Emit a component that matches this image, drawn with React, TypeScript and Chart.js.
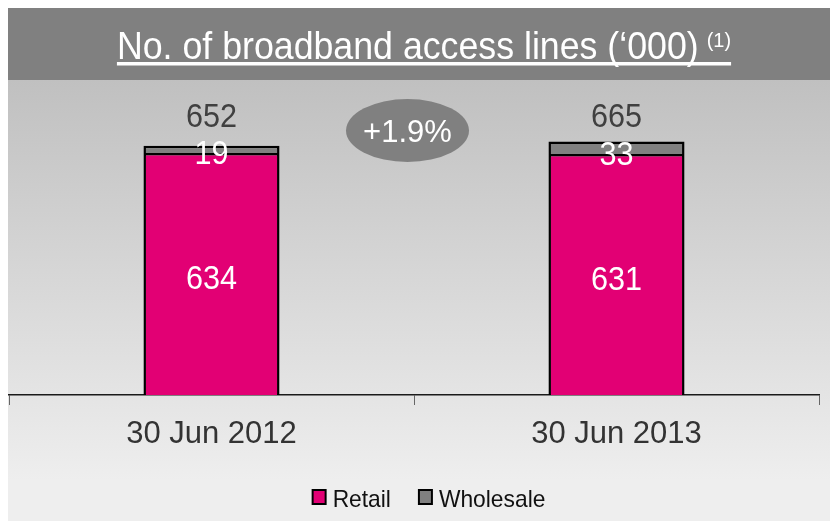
import React, { useEffect, useRef } from 'react';
import { Chart, registerables } from 'chart.js';

Chart.register(...registerables);

const categories = ['30 Jun 2012', '30 Jun 2013'];
const retail = [634, 631];
const wholesale = [19, 33];
const totals = [652, 665];
const growthLabel = '+1.9%';
const seriesNames = ['Retail', 'Wholesale'];
const titleText = 'No. of broadband access lines (\u2018000)';
const titleNote = '(1)';

const FONT = '"Liberation Sans", Arial, Helvetica, sans-serif';
const MAGENTA = '#E20074';
const GREY = '#808080';

function drawText(
  ctx: CanvasRenderingContext2D,
  text: string,
  x: number,
  y: number,
  size: number,
  color: string,
  align: CanvasTextAlign = 'center',
  sx = 1
) {
  ctx.save();
  ctx.font = `${size}px ${FONT}`;
  ctx.fillStyle = color;
  ctx.textBaseline = 'alphabetic';
  ctx.textAlign = align;
  ctx.translate(x, y);
  ctx.scale(sx, 1);
  ctx.fillText(text, 0, 0);
  ctx.restore();
}

const decorPlugin = {
  id: 'decor',
  beforeDraw(chart: any) {
    const { ctx, width, height } = chart;
    ctx.save();
    const barH = 72;
    const grad = ctx.createLinearGradient(0, barH, 0, 472);
    grad.addColorStop(0, '#C0C0C0');
    grad.addColorStop(1, '#EEEEEE');
    ctx.fillStyle = grad;
    ctx.fillRect(0, barH, width, height - barH);
    ctx.fillStyle = GREY;
    ctx.fillRect(0, 0, width, barH);

    // title
    const tSize = 38;
    const tSx = 0.94;
    ctx.font = `${tSize}px ${FONT}`;
    const w1 = ctx.measureText(titleText).width * tSx;
    const nSize = 21;
    ctx.font = `${nSize}px ${FONT}`;
    const w2 = ctx.measureText(titleNote).width * 0.95;
    const gap = 8;
    const total = w1 + gap + w2;
    const start = width / 2 + 5 - total / 2;
    drawText(ctx, titleText, start, 51, tSize, '#FFFFFF', 'left', tSx);
    drawText(ctx, titleNote, start + w1 + gap, 39, nSize, '#FFFFFF', 'left', 0.95);
    ctx.fillStyle = '#FFFFFF';
    ctx.fillRect(start, 54, total, 3.5);
    ctx.restore();
  },
  afterDatasetsDraw(chart: any) {
    const { ctx } = chart;
    const yScale = chart.scales.y;
    const m0 = chart.getDatasetMeta(0);
    const m1 = chart.getDatasetMeta(1);
    const labelSize = 34;
    const lsx = 0.9;
    const off = 0.358 * labelSize;
    const topY = yScale.getPixelForValue(Math.max(...totals)) - 26;
    m0.data.forEach((el: any, i: number) => {
      const cy = (el.y + el.base) / 2 + 3;
      drawText(ctx, String(retail[i]), el.x, cy + off, labelSize, '#FFFFFF', 'center', lsx);
      drawText(ctx, String(wholesale[i]), m1.data[i].x, el.y - 1 + off, labelSize, '#FFFFFF', 'center', lsx);
      drawText(ctx, String(totals[i]), el.x, topY + off, labelSize, '#404040', 'center', lsx);
    });

    // growth bubble
    const cx = (m0.data[0].x + m0.data[1].x) / 2 - 6.5;
    const cyE = 122.5;
    ctx.save();
    ctx.fillStyle = GREY;
    ctx.beginPath();
    ctx.ellipse(cx, cyE, 61.5, 31.5, 0, 0, Math.PI * 2);
    ctx.fill();
    ctx.restore();
    drawText(ctx, growthLabel, cx, cyE + 0.358 * 31, 31, '#FFFFFF', 'center', 1);

    // legend
    const lgSize = 24;
    ctx.save();
    ctx.font = `${lgSize}px ${FONT}`;
    const lsx2 = 0.95;
    const box = 15;
    const tgap = 6;
    const itemGap = 27;
    const colors = [MAGENTA, GREY];
    const widths = seriesNames.map((n) => ctx.measureText(n).width * lsx2);
    const totalW = widths.reduce((a, w) => a + box + tgap + w, 0) + itemGap * (seriesNames.length - 1);
    const ca = chart.chartArea;
    let x = (ca.left + ca.right) / 2 + 14.5 - totalW / 2;
    const by = 481;
    seriesNames.forEach((n, i) => {
      ctx.fillStyle = '#000000';
      ctx.fillRect(x, by, box, box + 1);
      ctx.fillStyle = colors[i];
      ctx.fillRect(x + 2, by + 2, box - 4, box - 3);
      drawText(ctx, n, x + box + tgap, 499, lgSize, '#111111', 'left', lsx2);
      x += box + tgap + widths[i] + itemGap;
    });
    ctx.restore();
  },
};

export default function App() {
  const ref = useRef<HTMLCanvasElement | null>(null);
  useEffect(() => {
    if (!ref.current) return;
    const chart = new Chart(ref.current, {
      type: 'bar',
      data: {
        labels: categories,
        datasets: [
          {
            label: seriesNames[0],
            data: retail,
            backgroundColor: MAGENTA,
            borderColor: '#000000',
            borderWidth: 2.5,
          },
          {
            label: seriesNames[1],
            data: wholesale,
            backgroundColor: GREY,
            borderColor: '#000000',
            borderWidth: 2.5,
          },
        ],
      },
      options: {
        responsive: false,
        animation: false,
        devicePixelRatio: 1,
        layout: { padding: { top: 81.5, left: 1, right: 11, bottom: 0 } },
        datasets: { bar: { categoryPercentage: 1, barPercentage: 0.336 } },
        plugins: {
          legend: { display: false },
          title: { display: false },
          tooltip: { enabled: false },
        },
        scales: {
          x: {
            stacked: true,
            afterFit: (scale: any) => {
              scale.height = 126;
            },
            grid: {
              display: true,
              drawOnChartArea: false,
              drawTicks: true,
              tickLength: 10,
              color: '#666666',
              offset: true,
            },
            border: { display: true, color: '#1a1a1a', width: 1.5 },
            ticks: {
              color: '#333333',
              padding: 11,
              font: { family: FONT, size: 31 },
            },
          },
          y: {
            stacked: true,
            display: false,
            min: 0,
            max: 800,
          },
        },
      },
      plugins: [decorPlugin],
    });
    return () => chart.destroy();
  }, []);
  return (
    <div style={{ position: 'absolute', left: 8, top: 8, width: 822, height: 513 }}>
      <canvas ref={ref} width={822} height={513} style={{ display: 'block', width: 822, height: 513 }} />
    </div>
  );
}
